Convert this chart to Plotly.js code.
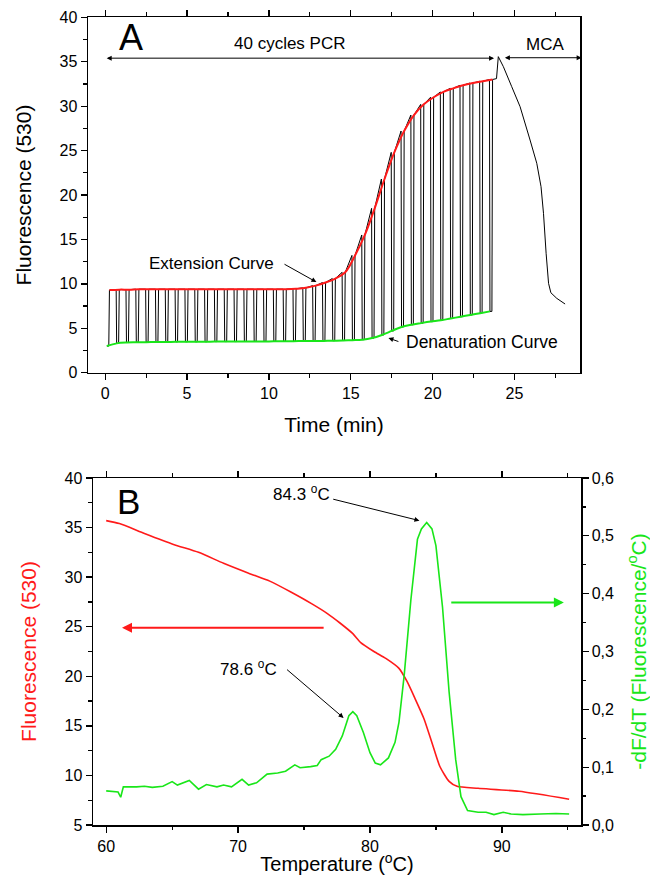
<!DOCTYPE html>
<html><head><meta charset="utf-8">
<script src="https://cdn.plot.ly/plotly-3.0.1.min.js"></script>
<style>html,body{margin:0;padding:0;background:#fff}</style>
</head><body><div id="chart" style="width:650px;height:875px"></div>
<script>
// ---------- Panel A data ----------
const cycleTime = [0.1, 0.7, 1.3, 1.9, 2.5, 3.1, 3.7, 4.3, 4.9, 5.5,
  6.1, 6.7, 7.3, 7.9, 8.5, 9.1, 9.7, 10.3, 10.9, 11.5,
  12.1, 12.7, 13.3, 13.9, 14.5, 15.1, 15.7, 16.3, 16.9, 17.5,
  18.1, 18.7, 19.3, 19.9, 20.5, 21.1, 21.7, 22.3, 22.9, 23.5];
const extensionF = [9.3, 9.35, 9.35, 9.4, 9.4, 9.4, 9.4, 9.4, 9.4, 9.4,
  9.4, 9.4, 9.4, 9.4, 9.4, 9.4, 9.4, 9.4, 9.4, 9.45,
  9.55, 9.8, 10.15, 10.6, 11.3, 13.2, 15.5, 18.5, 21.8, 24.8,
  27.2, 29.0, 30.2, 31.0, 31.6, 32.0, 32.35, 32.6, 32.8, 33.0];
const denaturationF = [3.0, 3.3, 3.4, 3.42, 3.44, 3.45, 3.46, 3.47, 3.48, 3.48,
  3.49, 3.5, 3.5, 3.5, 3.51, 3.52, 3.52, 3.53, 3.54, 3.55,
  3.56, 3.57, 3.58, 3.6, 3.62, 3.66, 3.72, 3.9, 4.25, 4.7,
  5.15, 5.4, 5.58, 5.75, 5.9, 6.1, 6.3, 6.5, 6.7, 6.9];
const mcaTime = [23.9, 24.01, 24.32, 24.83, 25.34, 25.95, 26.36, 26.62, 26.77, 26.93, 27.08, 27.22, 27.58, 28.09];
const mcaF    = [33.1, 35.57, 34.44, 32.19, 29.94, 26.19, 23.57, 20.94, 17.94, 13.44, 10.06, 9.0, 8.37, 7.73];

// ---------- Panel B data ----------
const meltT = [60, 61, 62.9, 65.1, 67.0, 68.9, 70.8, 72.4, 74.0, 75.6, 76.8, 77.7, 78.7, 79.3, 80.3, 81.2, 82.2, 82.8, 83.4, 84.1, 84.7, 85.3, 86.0, 86.6, 88.2, 91.3, 95.1];
const meltF = [35.7, 35.4, 34.4, 33.3, 32.5, 31.4, 30.4, 29.6, 28.5, 27.3, 26.3, 25.4, 24.3, 23.4, 22.5, 21.8, 20.8, 19.5, 17.8, 15.7, 13.3, 10.9, 9.4, 8.9, 8.7, 8.4, 7.6];
const derivT = [60, 60.9, 61.1, 61.3, 62.3, 62.9, 63.5, 64.3, 65.0, 65.4, 66.3, 67.0, 67.6, 68.4, 68.9, 69.5, 70.3, 70.8, 71.4, 72.2, 73.0, 73.6, 74.3, 74.7, 75.5, 76.0, 76.3, 76.9, 77.4, 77.9, 78.4, 78.7, 79.0, 79.5, 80.0, 80.4, 80.8, 81.4, 81.9, 82.2, 82.6, 83.1, 83.6, 83.9, 84.3, 84.7, 85.0, 85.5, 86.0, 86.5, 86.9, 87.4, 88.2, 88.8, 89.4, 90.1, 90.7, 91.6, 92.9, 94.1, 95.1];
const derivF = [0.059, 0.057, 0.048, 0.066, 0.066, 0.067, 0.065, 0.067, 0.075, 0.069, 0.077, 0.062, 0.070, 0.066, 0.069, 0.066, 0.079, 0.069, 0.073, 0.088, 0.090, 0.093, 0.104, 0.099, 0.101, 0.103, 0.113, 0.119, 0.131, 0.154, 0.189, 0.196, 0.189, 0.160, 0.125, 0.107, 0.104, 0.116, 0.143, 0.178, 0.260, 0.389, 0.494, 0.512, 0.523, 0.512, 0.483, 0.377, 0.230, 0.113, 0.049, 0.025, 0.022, 0.022, 0.018, 0.022, 0.019, 0.018, 0.019, 0.020, 0.019];

// ---------- style constants ----------
const RED = '#ff1a1a', GREEN = '#19e619', FONT = 'Liberation Sans, Arial, sans-serif';
const DOWN = 0.03, HOLD = 0.12, UP = 0.04;

// build the cycling trace from the cycle arrays
const cycX = [], cycY = [];
for (let k = 0; k < cycleTime.length; k++) {
  if (k > 0) { cycX.push(cycleTime[k] - DOWN); cycY.push(extensionF[k]); }
  cycX.push(cycleTime[k]); cycY.push(denaturationF[k]);
  cycX.push(cycleTime[k] + HOLD); cycY.push(denaturationF[k]);
  cycX.push(cycleTime[k] + HOLD + UP); cycY.push(extensionF[k]);
}
for (let i = 0; i < mcaTime.length; i++) { cycX.push(mcaTime[i]); cycY.push(mcaF[i]); }

const traces = [
  {x: cycX, y: cycY, type: 'scatter', mode: 'lines', line: {color: '#000', width: 1}, xaxis: 'x', yaxis: 'y', hoverinfo: 'skip'},
  {x: cycleTime.map(t => t + HOLD + UP), y: extensionF, type: 'scatter', mode: 'lines', line: {color: RED, width: 2, shape: 'spline'}, xaxis: 'x', yaxis: 'y'},
  {x: cycleTime, y: denaturationF, type: 'scatter', mode: 'lines', line: {color: GREEN, width: 2, shape: 'spline'}, xaxis: 'x', yaxis: 'y'},
  {x: meltT, y: meltF, type: 'scatter', mode: 'lines', line: {color: RED, width: 1.6, shape: 'spline', smoothing: 0.6}, xaxis: 'x2', yaxis: 'y2'},
  {x: derivT, y: derivF, type: 'scatter', mode: 'lines', line: {color: GREEN, width: 1.6}, xaxis: 'x2', yaxis: 'y3'}
];

function axisBase(extra) {
  return Object.assign({
    ticks: 'outside', ticklen: 6, tickwidth: 1.3, tickcolor: '#000',
    showline: true, linewidth: 1.5, linecolor: '#000',
    showgrid: false, zeroline: false,
    tickfont: {size: 16, color: '#000', family: FONT}
  }, extra);
}
function minor(d) { return {dtick: d, ticks: 'outside', ticklen: 3.5, tickwidth: 1.2, tickcolor: '#000', showgrid: false}; }

function arrow(xr, yr, x0, y0, x1, y1, color, width, both) {
  return {xref: xr, yref: yr, axref: xr, ayref: yr, ax: x0, ay: y0, x: x1, y: y1,
    text: '', showarrow: true, arrowhead: 2, arrowsize: 1, arrowwidth: width, arrowcolor: color,
    arrowside: both ? 'end+start' : 'end', standoff: 0, startstandoff: 0};
}
function label(xr, yr, x, y, text, size, color) {
  return {xref: xr, yref: yr, x: x, y: y, text: text, showarrow: false,
    font: {size: size, color: color || '#000', family: FONT}, xanchor: 'center', yanchor: 'middle'};
}

const layout = {
  width: 650, height: 875,
  margin: {l: 0, r: 0, t: 0, b: 0},
  paper_bgcolor: '#fff', plot_bgcolor: '#fff',
  font: {family: FONT, color: '#000'},
  separators: ', ',
  showlegend: false,
  xaxis: axisBase({domain: [88/650, 580/650], anchor: 'y', range: [-1.05, 29.0], tick0: 0, dtick: 5,
    minor: minor(2.5), mirror: 'ticks',
    title: {text: 'Time (min)', font: {size: 21, family: FONT}, standoff: 16}}),
  yaxis: axisBase({domain: [1 - 372.7/875, 1 - 17.3/875], anchor: 'x', range: [0, 40], tick0: 0, dtick: 5,
    minor: minor(2.5), mirror: true,
    title: {text: 'Fluorescence (530)', font: {size: 21, family: FONT}, standoff: 22}}),
  xaxis2: axisBase({domain: [93/650, 581/650], anchor: 'y2', range: [59, 96], tick0: 60, dtick: 10,
    minor: minor(5), mirror: 'ticks',
    title: {text: 'Temperature (<sup>o</sup>C)', font: {size: 20, family: FONT}, standoff: 9}}),
  yaxis2: axisBase({domain: [1 - 825/875, 1 - 478/875], anchor: 'x2', range: [5, 40], tick0: 5, dtick: 5,
    minor: minor(2.5),
    title: {text: 'Fluorescence (530)', font: {size: 21, family: FONT, color: RED}, standoff: 22}}),
  yaxis3: axisBase({overlaying: 'y2', anchor: 'x2', side: 'right', range: [0, 0.6], tick0: 0, dtick: 0.1,
    tickformat: '.1f', minor: minor(0.05),
    title: {text: '-dF/dT (Fluorescence/<sup>o</sup>C)', font: {size: 21, family: FONT, color: GREEN}, standoff: 20}}),
  annotations: [
    label('x', 'y', 1.56, 37.7, 'A', 36),
    label('x', 'y', 11.25, 37.1, '40 cycles PCR', 17),
    arrow('x', 'y', 0.0, 35.4, 23.75, 35.4, '#000', 1, true),
    label('x', 'y', 26.87, 36.9, 'MCA', 17),
    arrow('x', 'y', 24.32, 35.45, 29.1, 35.45, '#000', 1, true),
    label('x', 'y', 6.5, 12.3, 'Extension Curve', 17),
    arrow('x', 'y', 10.86, 12.3, 12.9, 10.2, '#000', 1, false),
    label('x', 'y', 23.0, 3.4, 'Denaturation Curve', 17.5),
    arrow('x', 'y', 18.0, 3.45, 17.3, 3.9, '#000', 1, false),

    label('x2', 'y2', 61.7, 37.6, 'B', 35),
    label('x2', 'y2', 74.8, 38.5, '84.3 <sup>o</sup>C', 17),
    arrow('x2', 'y2', 77.1, 37.9, 83.75, 35.7, '#000', 1, false),
    label('x2', 'y2', 70.8, 20.8, '78.6 <sup>o</sup>C', 17),
    arrow('x2', 'y2', 73.6, 20.8, 78.0, 15.8, '#000', 1, false),
    arrow('x2', 'y2', 76.6, 24.9, 61.2, 24.9, RED, 2, false),
    arrow('x2', 'y2', 86.05, 27.45, 94.7, 27.45, GREEN, 2, false)
  ]
};

Plotly.newPlot('chart', traces, layout, {displayModeBar: false, staticPlot: true});
</script></body></html>
